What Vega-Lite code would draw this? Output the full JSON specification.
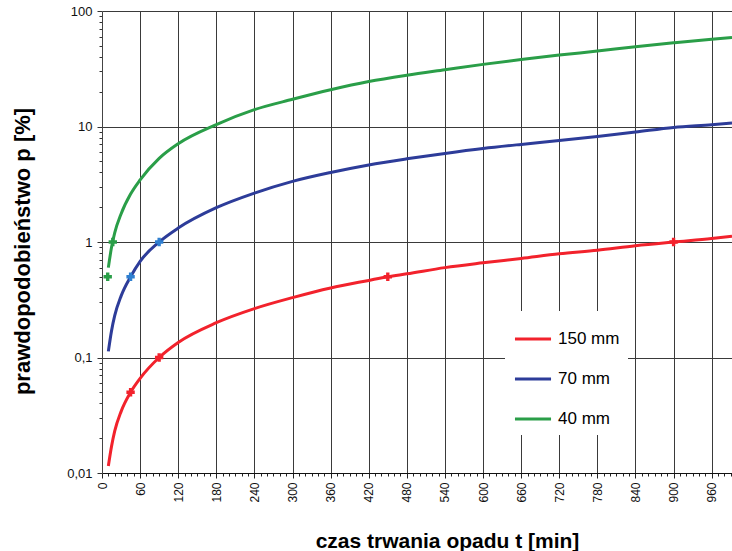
{
  "$schema": "https://vega.github.io/schema/vega-lite/v6.json",
  "width": 630,
  "height": 462,
  "autosize": {"type": "none"},
  "padding": {"left": 102, "top": 11, "right": 0, "bottom": 78},
  "background": "white",
  "config": {
    "view": {"stroke": null},
    "font": "Liberation Sans",
    "axis": {"labelFont": "Liberation Sans", "titleFont": "Liberation Sans", "labelColor": "#111", "titleColor": "#000"}
  },
  "datasets": {
    "curves": [
      {"s": "40 mm", "t": 10, "p": 0.6}, {"s": "40 mm", "t": 15, "p": 0.9}, {"s": "40 mm", "t": 20, "p": 1.2},
      {"s": "40 mm", "t": 30, "p": 1.75}, {"s": "40 mm", "t": 45, "p": 2.6}, {"s": "40 mm", "t": 60, "p": 3.45},
      {"s": "40 mm", "t": 90, "p": 5.3}, {"s": "40 mm", "t": 120, "p": 7.1}, {"s": "40 mm", "t": 180, "p": 10.4},
      {"s": "40 mm", "t": 240, "p": 14}, {"s": "40 mm", "t": 300, "p": 17.2}, {"s": "40 mm", "t": 360, "p": 20.8},
      {"s": "40 mm", "t": 420, "p": 24.5}, {"s": "40 mm", "t": 480, "p": 27.8}, {"s": "40 mm", "t": 540, "p": 31},
      {"s": "40 mm", "t": 600, "p": 34.5}, {"s": "40 mm", "t": 660, "p": 38}, {"s": "40 mm", "t": 720, "p": 41.5},
      {"s": "40 mm", "t": 780, "p": 45}, {"s": "40 mm", "t": 840, "p": 49}, {"s": "40 mm", "t": 900, "p": 53},
      {"s": "40 mm", "t": 960, "p": 57}, {"s": "40 mm", "t": 992, "p": 59},
      {"s": "70 mm", "t": 10, "p": 0.113}, {"s": "70 mm", "t": 15, "p": 0.17}, {"s": "70 mm", "t": 20, "p": 0.23},
      {"s": "70 mm", "t": 30, "p": 0.34}, {"s": "70 mm", "t": 45, "p": 0.5}, {"s": "70 mm", "t": 60, "p": 0.68},
      {"s": "70 mm", "t": 90, "p": 1.0}, {"s": "70 mm", "t": 120, "p": 1.32}, {"s": "70 mm", "t": 180, "p": 1.98},
      {"s": "70 mm", "t": 240, "p": 2.65}, {"s": "70 mm", "t": 300, "p": 3.35}, {"s": "70 mm", "t": 360, "p": 4.0},
      {"s": "70 mm", "t": 420, "p": 4.65}, {"s": "70 mm", "t": 480, "p": 5.25}, {"s": "70 mm", "t": 540, "p": 5.85},
      {"s": "70 mm", "t": 600, "p": 6.45}, {"s": "70 mm", "t": 660, "p": 7.0}, {"s": "70 mm", "t": 720, "p": 7.55},
      {"s": "70 mm", "t": 780, "p": 8.2}, {"s": "70 mm", "t": 840, "p": 8.95}, {"s": "70 mm", "t": 900, "p": 9.8},
      {"s": "70 mm", "t": 960, "p": 10.35}, {"s": "70 mm", "t": 992, "p": 10.7},
      {"s": "150 mm", "t": 10, "p": 0.0115}, {"s": "150 mm", "t": 15, "p": 0.017}, {"s": "150 mm", "t": 20, "p": 0.023},
      {"s": "150 mm", "t": 30, "p": 0.034}, {"s": "150 mm", "t": 45, "p": 0.05}, {"s": "150 mm", "t": 60, "p": 0.066},
      {"s": "150 mm", "t": 90, "p": 0.1}, {"s": "150 mm", "t": 120, "p": 0.135}, {"s": "150 mm", "t": 180, "p": 0.2},
      {"s": "150 mm", "t": 240, "p": 0.265}, {"s": "150 mm", "t": 300, "p": 0.33}, {"s": "150 mm", "t": 360, "p": 0.4},
      {"s": "150 mm", "t": 420, "p": 0.465}, {"s": "150 mm", "t": 450, "p": 0.5}, {"s": "150 mm", "t": 480, "p": 0.53},
      {"s": "150 mm", "t": 540, "p": 0.6}, {"s": "150 mm", "t": 600, "p": 0.66}, {"s": "150 mm", "t": 660, "p": 0.72},
      {"s": "150 mm", "t": 720, "p": 0.79}, {"s": "150 mm", "t": 780, "p": 0.85}, {"s": "150 mm", "t": 840, "p": 0.93},
      {"s": "150 mm", "t": 900, "p": 1.0}, {"s": "150 mm", "t": 960, "p": 1.07}, {"s": "150 mm", "t": 992, "p": 1.12}
    ],
    "markers": [
      {"s": "40 mm", "t": 9, "p": 0.5}, {"s": "40 mm", "t": 17, "p": 1},
      {"s": "70 mm", "t": 45, "p": 0.5}, {"s": "70 mm", "t": 90, "p": 1},
      {"s": "150 mm", "t": 45, "p": 0.05}, {"s": "150 mm", "t": 90, "p": 0.1},
      {"s": "150 mm", "t": 450, "p": 0.5}, {"s": "150 mm", "t": 900, "p": 1}
    ]
  },
  "layer": [
    {
      "data": {"name": "curves"},
      "mark": {"type": "line", "strokeWidth": 3, "interpolate": "monotone", "clip": true},
      "encoding": {
        "x": {
          "field": "t", "type": "quantitative",
          "scale": {"domain": [0, 992], "nice": false, "zero": false},
          "axis": {
            "title": "czas trwania opadu t [min]",
            "titleFontSize": 21, "titleFontWeight": "bold", "titlePadding": 28,
            "titleX": 345, "titleAlign": "center",
            "tickCount": 500,
            "values": [0,10,20,30,40,50,60,70,80,90,100,110,120,130,140,150,160,170,180,190,200,210,220,230,240,250,260,270,280,290,300,310,320,330,340,350,360,370,380,390,400,410,420,430,440,450,460,470,480,490,500,510,520,530,540,550,560,570,580,590,600,610,620,630,640,650,660,670,680,690,700,710,720,730,740,750,760,770,780,790,800,810,820,830,840,850,860,870,880,890,900,910,920,930,940,950,960,970,980,990],
            "labelExpr": "datum.value % 60 === 0 ? toString(datum.value) : ''",
            "labelAngle": 270, "labelFontSize": 12, "labelPadding": 4, "labelFlush": false, "labelOverlap": false, "labelBound": false,
            "tickSize": {"condition": {"test": "datum.value % 60 === 0", "value": 5}, "value": 3},
            "tickColor": "#222", "domainColor": "#111",
            "grid": true,
            "gridColor": "#3a3a3a",
            "gridOpacity": {"condition": {"test": "datum.value % 60 === 0 && datum.value > 0", "value": 1}, "value": 0}
          }
        },
        "y": {
          "field": "p", "type": "quantitative",
          "scale": {"type": "log", "domain": [0.01, 100], "nice": false},
          "axis": {
            "title": "prawdopodobieństwo p [%]",
            "titleFontSize": 22, "titleFontWeight": "bold", "titlePadding": 32,
            "titleY": 240,
            "tickCount": 500,
            "values": [0.01,0.02,0.03,0.04,0.05,0.06,0.07,0.08,0.09,0.1,0.2,0.3,0.4,0.5,0.6,0.7,0.8,0.9,1,2,3,4,5,6,7,8,9,10,20,30,40,50,60,70,80,90,100],
            "labelExpr": "indexof([0.01,0.1,1,10,100], datum.value) >= 0 ? replace(toString(datum.value), '.', ',') : ''",
            "labelFontSize": 13, "labelPadding": 5, "labelOverlap": false, "labelBound": false, "labelFlush": false,
            "tickSize": {"condition": {"test": "indexof([0.01,0.1,1,10,100], datum.value) >= 0", "value": 5}, "value": 3},
            "tickColor": "#333", "domainColor": "#444",
            "grid": true,
            "gridColor": "#3a3a3a",
            "gridOpacity": {"condition": {"test": "indexof([0.1,1,10,100], datum.value) >= 0", "value": 1}, "value": 0}
          }
        },
        "color": {
          "field": "s", "type": "nominal",
          "scale": {"domain": ["150 mm", "70 mm", "40 mm"], "range": ["#f2222c", "#2d3c99", "#2a9e48"]},
          "legend": {
            "title": null, "orient": "none", "legendX": 403, "legendY": 300,
            "fillColor": "white", "padding": 8,
            "symbolType": "stroke", "symbolSize": 1300, "symbolStrokeWidth": 3,
            "labelFontSize": 17, "labelFont": "Liberation Sans", "labelColor": "#000", "labelOffset": 5,
            "rowPadding": 12
          }
        },
        "detail": {"field": "s"}
      }
    },
    {
      "data": {"name": "markers"},
      "mark": {"type": "point", "shape": "cross", "filled": true, "size": 70, "opacity": 1},
      "encoding": {
        "x": {"field": "t", "type": "quantitative"},
        "y": {"field": "p", "type": "quantitative"},
        "color": {
          "field": "s", "type": "nominal",
          "scale": {"domain": ["150 mm", "70 mm", "40 mm"], "range": ["#f2222c", "#2f7fd0", "#2a9e48"]},
          "legend": null
        }
      }
    }
  ],
  "resolve": {"scale": {"color": "independent"}}
}
